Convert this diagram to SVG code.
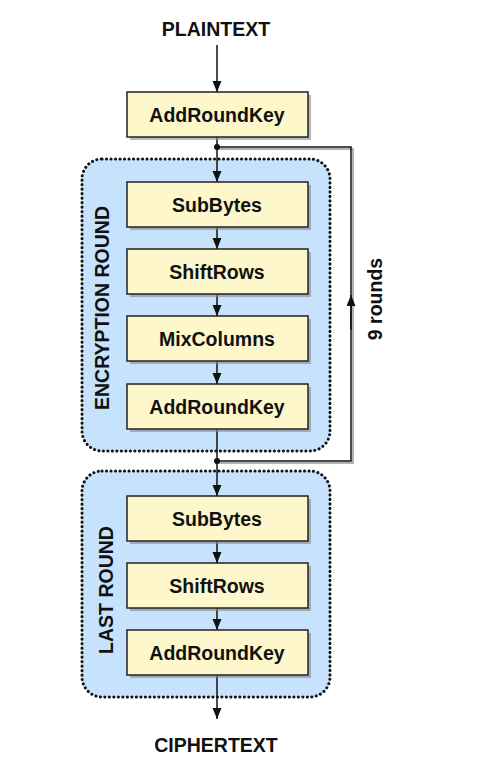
<svg xmlns="http://www.w3.org/2000/svg" width="492" height="763" viewBox="0 0 492 763">
<style>
  .lbl { font-family: "Liberation Sans", Arial, Helvetica, sans-serif; font-weight: bold; font-size: 19.5px; fill: #111; text-anchor: middle; }
  .box { fill: #fdf7cb; stroke: #222; stroke-width: 1.5; }
  .shadow { fill: #888; opacity: 0.6; }
  .group { fill: #c6e2fc; stroke: #111; stroke-width: 3; stroke-dasharray: 0.1 4.4; stroke-linecap: round; }
  .conn { stroke: #111; stroke-width: 1.5; fill: none; }
  .loopshadow { stroke: #999; stroke-width: 1.5; fill: none; }
</style>
<defs>
  <marker id="arr" markerWidth="11" markerHeight="10" refX="11" refY="4.5" orient="auto" markerUnits="userSpaceOnUse">
    <path d="M0,0 L11,4.5 L0,9 Z" fill="#111"/>
  </marker>
</defs>
<rect width="492" height="763" fill="#fff"/>

<g id="encryption-round">
  <rect class="group" x="82" y="159" width="248" height="292" rx="20" ry="20"/>
  <text class="lbl" transform="translate(109,308) rotate(-90)">ENCRYPTION ROUND</text>
</g>
<g id="last-round">
  <rect class="group" x="82" y="471" width="248" height="226" rx="20" ry="20"/>
  <text class="lbl" transform="translate(113,590) rotate(-90)">LAST ROUND</text>
</g>

<g id="connectors">
  <polyline class="loopshadow" points="217,149 353,149 353,463 217,463"/>
  <polyline class="conn" points="217,147 351,147 351,461 217,461"/>
  <line class="conn" x1="351" y1="330" x2="351" y2="295" marker-end="url(#arr)"/>
  <line class="conn" x1="217" y1="45" x2="217" y2="92" marker-end="url(#arr)"/>
  <line class="conn" x1="217" y1="137" x2="217" y2="182" marker-end="url(#arr)"/>
  <line class="conn" x1="217" y1="227" x2="217" y2="249" marker-end="url(#arr)"/>
  <line class="conn" x1="217" y1="294" x2="217" y2="316" marker-end="url(#arr)"/>
  <line class="conn" x1="217" y1="361" x2="217" y2="384" marker-end="url(#arr)"/>
  <line class="conn" x1="217" y1="429" x2="217" y2="496" marker-end="url(#arr)"/>
  <line class="conn" x1="217" y1="541" x2="217" y2="563" marker-end="url(#arr)"/>
  <line class="conn" x1="217" y1="608" x2="217" y2="630" marker-end="url(#arr)"/>
  <line class="conn" x1="217" y1="675" x2="217" y2="719" marker-end="url(#arr)"/>
  <circle cx="217" cy="147" r="3" fill="#111"/>
  <circle cx="217" cy="461" r="3" fill="#111"/>
</g>

<g id="plaintext"><text class="lbl" x="216" y="36">PLAINTEXT</text></g>
<g id="ciphertext"><text class="lbl" x="216" y="752">CIPHERTEXT</text></g>
<g id="nine-rounds"><text class="lbl" transform="translate(382,299) rotate(-90)">9 rounds</text></g>

<g id="addroundkey-0">
  <rect class="shadow" x="130" y="95" width="181" height="45"/>
  <rect class="box" x="127" y="92" width="181" height="45"/>
  <text class="lbl" x="217" y="122">AddRoundKey</text>
</g>
<g id="subbytes-1">
  <rect class="shadow" x="130" y="185" width="181" height="45"/>
  <rect class="box" x="127" y="182" width="181" height="45"/>
  <text class="lbl" x="217" y="212">SubBytes</text>
</g>
<g id="shiftrows-1">
  <rect class="shadow" x="130" y="252" width="181" height="45"/>
  <rect class="box" x="127" y="249" width="181" height="45"/>
  <text class="lbl" x="217" y="279">ShiftRows</text>
</g>
<g id="mixcolumns-1">
  <rect class="shadow" x="130" y="319" width="181" height="45"/>
  <rect class="box" x="127" y="316" width="181" height="45"/>
  <text class="lbl" x="217" y="346">MixColumns</text>
</g>
<g id="addroundkey-1">
  <rect class="shadow" x="130" y="387" width="181" height="45"/>
  <rect class="box" x="127" y="384" width="181" height="45"/>
  <text class="lbl" x="217" y="414">AddRoundKey</text>
</g>
<g id="subbytes-2">
  <rect class="shadow" x="130" y="499" width="181" height="45"/>
  <rect class="box" x="127" y="496" width="181" height="45"/>
  <text class="lbl" x="217" y="526">SubBytes</text>
</g>
<g id="shiftrows-2">
  <rect class="shadow" x="130" y="566" width="181" height="45"/>
  <rect class="box" x="127" y="563" width="181" height="45"/>
  <text class="lbl" x="217" y="593">ShiftRows</text>
</g>
<g id="addroundkey-2">
  <rect class="shadow" x="130" y="633" width="181" height="45"/>
  <rect class="box" x="127" y="630" width="181" height="45"/>
  <text class="lbl" x="217" y="660">AddRoundKey</text>
</g>
</svg>
